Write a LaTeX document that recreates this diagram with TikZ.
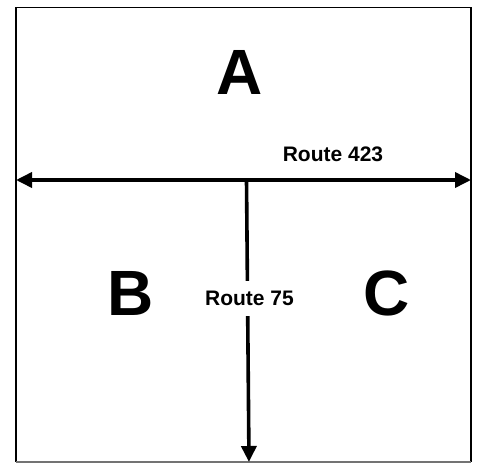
\documentclass[tikz,border=0pt]{standalone}
\usepackage{fontspec}
\setmainfont{Liberation Sans}
\usetikzlibrary{arrows.meta}
\newcommand{\roadw}{3.6pt}
\tikzset{
  region/.style={font=\bfseries\fontsize{64}{70}\selectfont,inner sep=0pt},
  roadname/.style={font=\bfseries\fontsize{21}{24}\selectfont,inner xsep=2pt},
  road/.style={line width=\roadw,-{Triangle[length=16pt,width=15pt]}}
}

\begin{document}
\begin{tikzpicture}[x=1pt,y=-1pt]
\useasboundingbox (0,0) rectangle (479,463);
\coordinate (w) at (16,180);
\coordinate (e) at (471,180);
\coordinate (j) at (246.5,180);
\coordinate (s) at (249,462);
\draw[line width=1.6pt] (16,462) -- (16,7.5) -- (471,7.5) -- (471,462);
\draw[line width=1.6pt,black!55] (16,462) -- (471,462);

\draw[road,{Triangle[length=16pt,width=15pt]}-{Triangle[length=16pt,width=15pt]}] (w) -- (e);
\draw[road] (j) -- (s);

\node[region] (a) at (239.5,72.5) {A};
\node[region] (b) at (130.5,293) {B};
\node[region] (c) at (386.5,293) {C};
\node[roadname] (r423) at (333,154.5) {Route 423};
\node[roadname,fill=white,inner ysep=10.5pt] (r75) at (249.5,298.5) {Route 75};
\end{tikzpicture}
\end{document}
